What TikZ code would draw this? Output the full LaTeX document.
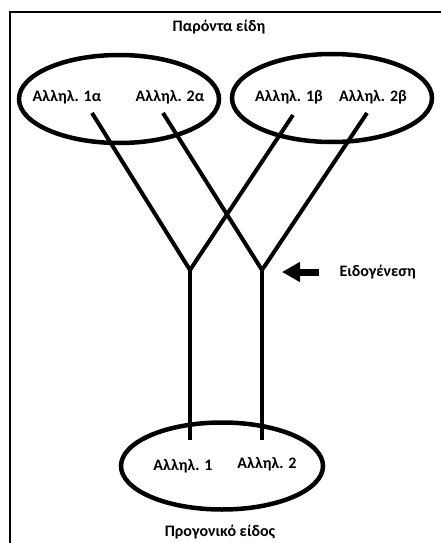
\documentclass[tikz,border=0pt]{standalone}
\usepackage{fontspec}
\setmainfont{Carlito}
\usetikzlibrary{arrows.meta,shapes.geometric}

\tikzset{
  lbl/.style={font=\fontsize{16}{18}\selectfont\bfseries},
  pool/.style={draw,ellipse,line width=4.5pt,inner sep=0pt},
  branch/.style={line width=4pt,line cap=butt,line join=miter}
}

\begin{document}
\begin{tikzpicture}[x=1pt,y=-1pt]
\useasboundingbox (0,0) rectangle (440,543);
\draw[line width=2.5pt] (442,12)-- (10,12)-- (10,545);
% present species
\node[lbl] (top) at (219,27) {Παρόντα είδη};
\node[pool,minimum width=200pt,minimum height=88pt] (popa) at (119,99) {};
\node[pool,minimum width=200pt,minimum height=88pt] (popb) at (332,98) {};
\node[lbl] (a1) at (67,97) {Αλληλ. 1α};
\node[lbl] (a2) at (170,97) {Αλληλ. 2α};
\node[lbl] (b1) at (289,97) {Αλληλ. 1β};
\node[lbl] (b2) at (373,97) {Αλληλ. 2β};
% ancestral species
\node[pool,minimum width=202pt,minimum height=87pt] (anc) at (222,466) {};
\node[lbl] (r1) at (183,466) {Αλληλ. 1};
\node[lbl] (r2) at (267,464) {Αλληλ. 2};
\node[lbl] (bot) at (220,532) {Προγονικό είδος};
% branch points
\coordinate (fa) at (190,270);
\coordinate (fb) at (262,270);
\coordinate (sa1) at (92,113);
\coordinate (sa2) at (163,113);
\coordinate (sb1) at (293,115);
\coordinate (sb2) at (367,113);
\coordinate (ra) at (190,440);
\coordinate (rb) at (262,440);
\draw[branch] (sa1)-- (fa)-- (sb1);
\draw[branch] (sa2)-- (fb)-- (sb2);
\draw[branch] (fa)-- (ra);
\draw[branch] (fb)-- (rb);
% speciation
\node[lbl,anchor=west] (spec) at (336,272) {Ειδογένεση};
\coordinate (tip) at (282,272);
\draw[line width=7pt,-{Triangle[length=18pt,width=19pt]}] (spec.west)++(-17,0) -- (tip);
\end{tikzpicture}
\end{document}
